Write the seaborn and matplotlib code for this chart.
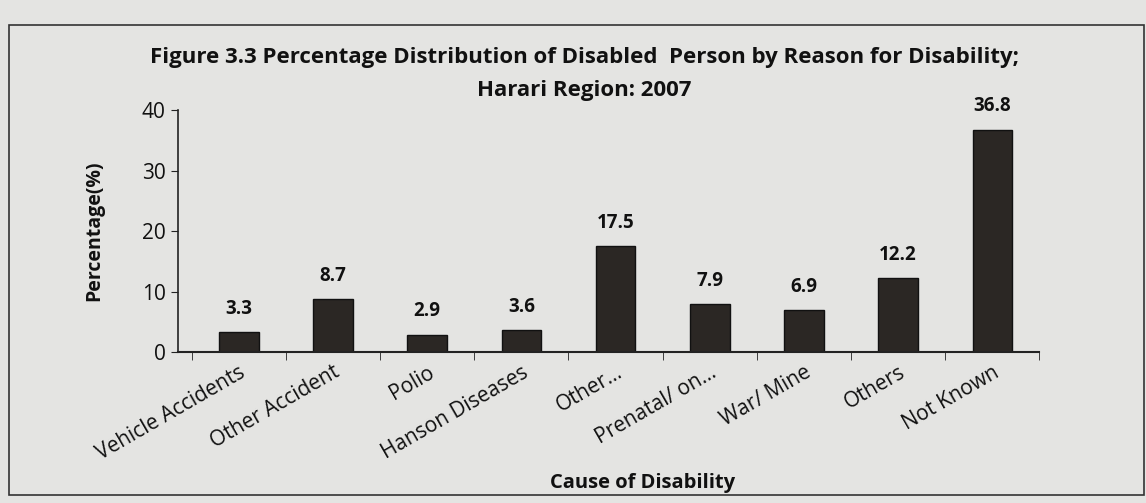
import matplotlib
matplotlib.use("Agg")
import matplotlib.pyplot as plt
import seaborn as sns
import numpy as np
from matplotlib.patches import Rectangle

# Data
causes = ["Vehicle Accidents", "Other Accident", "Polio", "Hanson Diseases", "Other...",
          "Prenatal/ on...", "War/ Mine", "Others", "Not Known"]
percent = [3.3, 8.7, 2.9, 3.6, 17.5, 7.9, 6.9, 12.2, 36.8]
y_ticks = [0, 10, 20, 30, 40]

sns.set_style("ticks")
plt.rcParams["font.family"] = ["Open Sans", "DejaVu Sans"]

fig = plt.figure(figsize=(11.46, 5.03), dpi=100, facecolor="#e4e4e2")
ax = fig.add_axes([0.155, 0.30, 0.752, 0.481])
ax.set_facecolor("none")

sns.barplot(x=causes, y=percent, color="#2b2724", width=0.42, saturation=1,
            edgecolor="#111111", linewidth=1, ax=ax)

for i, v in enumerate(percent):
    ax.text(i, v + 2.2, f"{v}", ha="center", va="bottom", fontsize=13.5, fontweight="bold", color="#111111")

ax.set_ylim(0, 40)
ax.set_yticks(y_ticks)
ax.set_yticklabels([str(t) for t in y_ticks], fontsize=15, color="#111111")
ax.set_xlim(-0.65, len(causes) - 0.5)
ax.set_xticks(np.arange(len(causes)))
ax.set_xticklabels(causes, rotation=30, ha="right", rotation_mode="anchor", fontsize=15, color="#111111")
ax.tick_params(axis="x", length=0, pad=7)
ax.set_xticks(np.arange(len(causes) + 1) - 0.5, minor=True)
ax.tick_params(axis="x", which="minor", length=6, color="#222222")
ax.tick_params(axis="y", length=5, color="#222222")
for s in ["top", "right"]:
    ax.spines[s].set_visible(False)
ax.spines["left"].set_color("#222222")
ax.spines["bottom"].set_color("#222222")
ax.spines["left"].set_linewidth(1.2)
ax.spines["bottom"].set_linewidth(1.5)

ax.set_ylabel("Percentage(%)", fontsize=14, fontweight="bold", color="#111111")
ax.yaxis.set_label_coords(-0.085, 0.5)
ax.set_xlabel("Cause of Disability", fontsize=14.5, fontweight="bold", color="#111111")
ax.xaxis.set_label_coords(0.54, -0.50)

fig.text(0.51, 0.875, "Figure 3.3 Percentage Distribution of Disabled  Person by Reason for Disability;",
         ha="center", fontsize=16, fontweight="bold", color="#111111")
fig.text(0.51, 0.81, "Harari Region: 2007", ha="center", fontsize=16, fontweight="bold", color="#111111")

fig.patches.append(Rectangle((0.008, 0.015), 0.99, 0.935, transform=fig.transFigure,
                             fill=False, edgecolor="#333333", linewidth=1.2))

fig.savefig("out.png", dpi=100, facecolor=fig.get_facecolor())
